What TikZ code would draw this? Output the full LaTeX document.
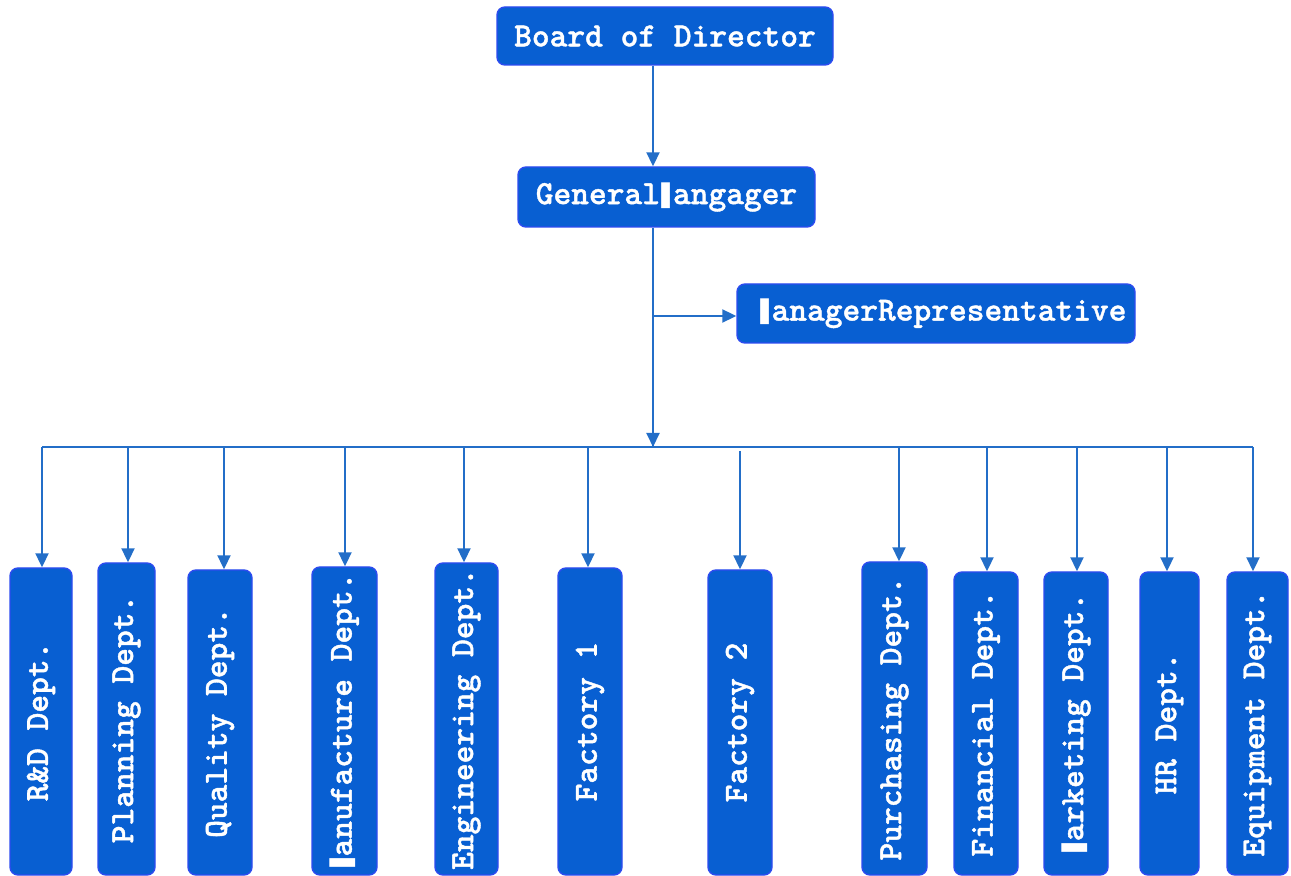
\documentclass[tikz,border=0pt]{standalone}
\usepackage{fontspec}
\usepackage{graphicx}
\usetikzlibrary{arrows.meta}
\newfontfamily\orgfont{lmmonolt10-bold}[Extension=.otf, FakeBold=1.2]
\newfontfamily\orgbarfont{DejaVu Sans}[FakeStretch=0.7]
\newcommand\Mbar{{\orgbarfont\bfseries ▮}}
\definecolor{boxfill}{RGB}{8,95,210}
\definecolor{boxline}{RGB}{45,75,240}
\definecolor{linkcol}{RGB}{35,110,200}
\begin{document}
\begin{tikzpicture}[x=0.5pt,y=-0.5pt,
  orgbox/.style={draw=boxline, fill=boxfill, line width=0.7pt, rounded corners=4pt,
    inner sep=0pt, text=white, font=\orgfont\fontsize{16.9pt}{19pt}\selectfont},
  link/.style={draw=linkcol, line width=1pt, -{Triangle[width=6.5pt,length=7pt]}},
  wire/.style={draw=linkcol, line width=1pt}]
\useasboundingbox (0,0) rectangle (1291,876);

% top nodes
\node[orgbox, minimum width=168pt, minimum height=29pt] (board) at (665,36) {Board of Director};
\node[orgbox, minimum width=148.5pt, minimum height=30pt] (gm) at (666.5,197) {General\Mbar angager};
\node[orgbox, minimum width=199pt, minimum height=29.5pt] (rep) at (936,313.5) {\hspace*{6.5pt}\Mbar anagerRepresentative};

% departments
\node[orgbox, minimum width=31pt,   minimum height=153.5pt] (rd)  at (41,721.5)    {\rotatebox{90}{R\&D Dept.}};
\node[orgbox, minimum width=28.5pt, minimum height=156pt]   (pl)  at (126.5,719)   {\rotatebox{90}{Planning Dept.}};
\node[orgbox, minimum width=32pt,   minimum height=152.5pt] (qu)  at (220,722.5)   {\rotatebox{90}{Quality Dept.}};
\node[orgbox, minimum width=32.5pt, minimum height=154pt]   (ma)  at (344.5,721)   {\rotatebox{90}{\Mbar anufacture Dept.}};
\node[orgbox, minimum width=31.5pt, minimum height=156pt]   (en)  at (466.5,719)   {\rotatebox{90}{Engineering Dept.}};
\node[orgbox, minimum width=32pt,   minimum height=153.5pt] (f1)  at (590,721.5)   {\rotatebox{90}{Factory 1}};
\node[orgbox, minimum width=32pt,   minimum height=152.5pt] (f2)  at (740,722.5)   {\rotatebox{90}{Factory 2}};
\node[orgbox, minimum width=32.5pt, minimum height=156.5pt] (pu)  at (894.5,718.5) {\rotatebox{90}{Purchasing Dept.}};
\node[orgbox, minimum width=32pt,   minimum height=151.5pt] (fi)  at (986,723.5)   {\rotatebox{90}{Financial Dept.}};
\node[orgbox, minimum width=32pt,   minimum height=151.5pt] (mk)  at (1076,723.5)  {\rotatebox{90}{\Mbar arketing Dept.}};
\node[orgbox, minimum width=29.5pt, minimum height=151.5pt] (hr)  at (1169.5,723.5){\rotatebox{90}{HR Dept.}};
\node[orgbox, minimum width=30.5pt, minimum height=151.5pt] (eq)  at (1257.5,723.5){\rotatebox{90}{Equipment Dept.}};

% trunk
\coordinate (tx) at (653,0);
\coordinate (branch) at (653,316);
\coordinate (hub) at (653,447);
\draw[link] (board.south -| tx) -- (gm.north -| tx);
\draw[wire] (gm.south -| tx) -- (hub);
\draw[link] (branch) -- (branch -| rep.west);
\draw[link] (branch) -- (hub);

% bus
\coordinate (busL) at (42,447);
\coordinate (busR) at (1253,447);
\draw[wire] (busL) -- (busR);

% drops
\coordinate (d1) at (42,447);
\coordinate (d2) at (128,447);
\coordinate (d3) at (224,447);
\coordinate (d4) at (345,447);
\coordinate (d5) at (464,447);
\coordinate (d6) at (588,447);
\coordinate (d7) at (740,451);
\coordinate (d8) at (899,447);
\coordinate (d9) at (987,447);
\coordinate (d10) at (1077,447);
\coordinate (d11) at (1167,447);
\coordinate (d12) at (1253,447);
\draw[link] (d1) -- (d1 |- rd.north);
\draw[link] (d2) -- (d2 |- pl.north);
\draw[link] (d3) -- (d3 |- qu.north);
\draw[link] (d4) -- (d4 |- ma.north);
\draw[link] (d5) -- (d5 |- en.north);
\draw[link] (d6) -- (d6 |- f1.north);
\draw[link] (d7) -- (d7 |- f2.north);
\draw[link] (d8) -- (d8 |- pu.north);
\draw[link] (d9) -- (d9 |- fi.north);
\draw[link] (d10) -- (d10 |- mk.north);
\draw[link] (d11) -- (d11 |- hr.north);
\draw[link] (d12) -- (d12 |- eq.north);
\end{tikzpicture}
\end{document}
